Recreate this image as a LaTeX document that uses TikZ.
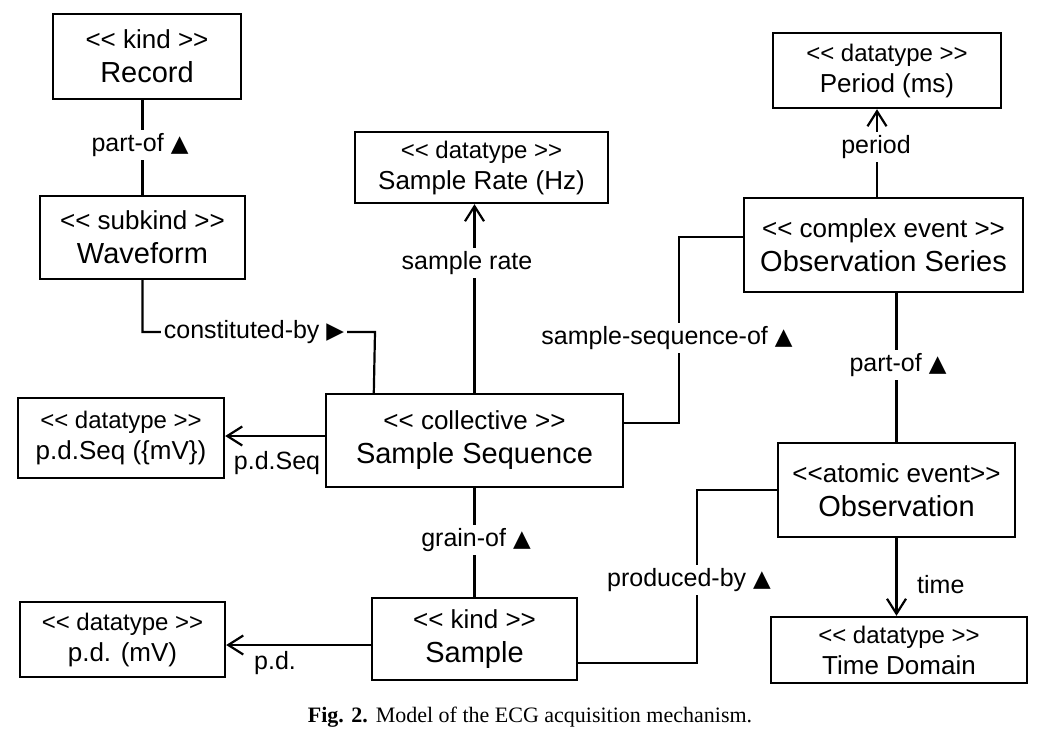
\documentclass[tikz,border=0pt]{standalone}
\usepackage{fontspec}
\setmainfont{Liberation Sans}
\newfontfamily\capfont{Liberation Serif}
\newfontfamily\symfont{DejaVu Sans}
\usetikzlibrary{arrows.meta, positioning, calc}

\newcommand{\lsg}{<\kern0pt<}
\newcommand{\rsg}{>\kern0pt>}
\newcommand{\upt}{{\symfont\fontsize{23}{23}\selectfont ▲}}
\newcommand{\rgt}{{\symfont\fontsize{23}{23}\selectfont ▶}}
\newcommand{\nm}[1]{{\fontsize{29}{34}\selectfont #1}}
\newcommand{\dn}[1]{{\fontsize{26}{31}\selectfont #1}}

\begin{document}
\begin{tikzpicture}[x=1pt, y=-1pt,
  box/.style={draw, line width=2.4pt, align=center, inner sep=0pt, font=\fontsize{26}{34}\selectfont},
  dtype/.style={box, font=\fontsize{24}{31}\selectfont},
  link/.style={line width=2.2pt},
  assoc/.style={link, -{Straight Barb[length=15pt,width=19pt]}},
  lbl/.style={fill=white, inner sep=3pt, font=\fontsize{25}{30}\selectfont}]
\useasboundingbox (0,0) rectangle (1044,747);

%boxes
  \node[box, minimum width=188pt, minimum height=85pt] (record) at (147,56.5) {\lsg{} kind \rsg\\\nm{Record}};
  \node[box, minimum width=205pt, minimum height=83pt] (waveform) at (142.5,237.5) {\lsg{} subkind \rsg\\\nm{Waveform}};
  \node[dtype, minimum width=253pt, minimum height=71pt] (rate) at (481.5,167.5) {\lsg{} datatype \rsg\\\dn{Sample Rate (Hz)}};
  \node[box, minimum width=297pt, minimum height=93pt] (seq) at (474.5,440.5) {\lsg{} collective \rsg\\\nm{Sample Sequence}};
  \node[dtype, minimum width=228pt, minimum height=75pt] (period) at (887,70.5) {\lsg{} datatype \rsg\\\dn{Period (ms)}};
  \node[box, minimum width=279pt, minimum height=94pt] (series) at (883.5,245) {\lsg{} complex event \rsg\\\nm{Observation Series}};
  \node[box, minimum width=237pt, minimum height=94pt] (obs) at (896.5,490) {\lsg{}atomic event\rsg\\\nm{Observation}};
  \node[dtype, minimum width=256pt, minimum height=66pt] (timedom) at (899,650) {\lsg{} datatype \rsg\\\dn{Time Domain}};
  \node[dtype, minimum width=206pt, minimum height=80pt] (pdseq) at (121,438) {\lsg{} datatype \rsg\\\dn{p.d.Seq (\{mV\})}};
  \node[box, minimum width=205pt, minimum height=82pt] (sample) at (474.5,639) {\lsg{} kind \rsg\\\nm{Sample}};
  \node[dtype, minimum width=205pt, minimum height=75pt] (pdmv) at (122.5,639.5) {\lsg{} datatype \rsg\\\dn{p.d. (mV)}};

%links
  \draw[link] (record.south -| waveform.north) -- (waveform.north);
  \draw[link] (waveform.south) |- (375,332) -- ([xshift=49pt]seq.north west);
  \draw[assoc] (seq.north) -- (seq.north |- rate.south);
  \draw[link] ([yshift=17.5pt]seq.east) -| (679,330) |- ([yshift=8pt]series.west);
  \draw[assoc] ([xshift=-6.5pt]series.north) -- ([xshift=-6.5pt]series.north |- period.south);
  \draw[link] (obs.north |- series.south) -- (obs.north);
  \draw[assoc] (obs.south) -- (obs.south |- timedom.north);
  \draw[link] (obs.west) -| (697,600) |- ([yshift=-24pt]sample.east);
  \draw[link] (seq.south) -- (sample.north);
  \draw[assoc] ([yshift=4.5pt]seq.west) -- ([yshift=4.5pt]seq.west -| pdseq.east);
  \draw[assoc] ([yshift=-6pt]sample.west) -- ([yshift=-6pt]sample.west -| pdmv.east);

%labels
  \node[lbl] (partofrec) at (140,145) {part-of \upt};
  \node[lbl] (constby) at (254,332) {constituted-by \rgt};
  \node[lbl] (ratelbl) at (467,263) {sample rate};
  \node[lbl] (ssof) at (667,338) {sample-sequence-of \upt};
  \node[lbl] (periodlbl) at (876,147) {period};
  \node[lbl] (partofobs) at (898,365) {part-of \upt};
  \node[lbl, anchor=west] (timelbl) at (914,585) {time};
  \node[lbl] (prodby) at (689,580) {produced-by \upt};
  \node[lbl] (grainof) at (476,540) {grain-of \upt};
  \node[lbl] (pdseqlbl) at (277,463) {p.d.Seq};
  \node[lbl] (pdlbl) at (275,663) {p.d.};

%caption
  \node (caption) at (530,717) {\capfont\fontsize{22}{25}\selectfont\textbf{Fig. 2.}\hspace{8pt}Model of the ECG acquisition mechanism.};
\end{tikzpicture}
\end{document}
